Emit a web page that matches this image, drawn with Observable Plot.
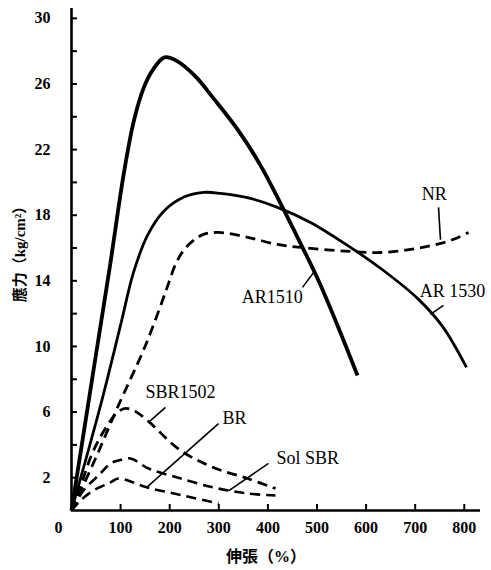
<!DOCTYPE html>
<html><head><meta charset="utf-8">
<script src="https://cdn.jsdelivr.net/npm/d3@7"></script>
<script src="https://cdn.jsdelivr.net/npm/@observablehq/plot@0.6"></script>
<style>body{margin:0;background:#fff}</style>
</head><body><div id="chart"></div>
<script>
// Elongation (%) and stress (kg/cm²)
const ar1510X = [0,48.9,79.4,105.9,126.3,146.6,165,189.4,215.9,252.5,289.2,338.1,384.9,425.7,466.4,503,541.8,582.5];
const ar1510Y = [0,9.33,15.12,20.43,23.66,25.73,26.83,27.62,27.38,26.46,25.12,23.23,21.04,18.72,16.28,14.02,11.28,8.23];
const ar1530X = [0,59.1,99.8,126.3,154.8,187.4,228.1,268.8,303.5,364.6,419.6,486.8,568.2,635.4,704.7,755.6,804.5];
const ar1530Y = [0,6.40,11.28,14.51,16.77,18.23,19.09,19.39,19.33,19.02,18.48,17.56,16.04,14.63,12.93,11.22,8.72];
const nrX = [0,48.9,93.7,144.6,165,185.3,197.6,211.8,228.1,248.5,268.8,299.4,358.5,419.6,466.4,568.2,635.4,704.7,771.9,808.6];
const nrY = [0,3.17,6.28,9.63,11.16,12.80,13.84,15.0,15.85,16.46,16.83,16.95,16.65,16.22,16.04,15.79,15.73,15.98,16.46,16.95];
const sbr1502X = [0,22.4,38.7,55,75.4,93.7,110,130.3,156.8,222,289.2,358.5,415.5];
const sbr1502Y = [0,1.83,3.23,4.27,5.30,5.98,6.22,6.04,5.43,3.66,2.62,1.95,1.34];
const solSbrX = [0,24.4,59.1,79.4,95.7,120.2,156.8,215.9,289.2,358.5,415.5];
const solSbrY = [0,1.22,2.26,2.87,3.05,3.17,2.56,2.01,1.40,1.04,0.91];
const brX = [0,18.3,44.8,79.4,95.7,154.8,228.1,299.4];
const brY = [0,0.61,1.22,1.71,1.95,1.40,0.91,0.43];

const seriesNames = ["AR1510","AR 1530","NR","SBR1502","Sol SBR","BR"];
const seriesX = [ar1510X, ar1530X, nrX, sbr1502X, solSbrX, brX];
const seriesY = [ar1510Y, ar1530Y, nrY, sbr1502Y, solSbrY, brY];

// Labels and their leader lines (data units)
const labelX = [409, 776, 739, 222, 481, 332];
const labelY = [13.0, 13.35, 19.3, 7.2, 3.2, 5.6];
const leaderX1 = [470.5, 757.6, 747.5, 191.4, 401.2, 299.4];
const leaderY1 = [13.6, 12.5, 18.48, 6.28, 2.87, 5.30];
const leaderX2 = [492.9, 731, 751.5, 156.8, 319.8, 154.8];
const leaderY2 = [14.5, 11.95, 16.5, 5.37, 1.2, 1.46];

const xTicks = [100,200,300,400,500,600,700,800];
const yTicksAll = d3.range(2, 31, 2);
const yTickLabels = [2,6,10,14,18,22,26,30];

const styles = {
  "AR1510": {strokeWidth: 3.8, dash: null},
  "AR 1530": {strokeWidth: 2.8, dash: null},
  "NR": {strokeWidth: 2.8, dash: "10,6"},
  "SBR1502": {strokeWidth: 2.8, dash: "10,6"},
  "Sol SBR": {strokeWidth: 2.6, dash: "10,6"},
  "BR": {strokeWidth: 2.6, dash: "10,6"}
};

const rows = [];
seriesNames.forEach((n, i) => seriesX[i].forEach((xv, j) => rows.push({name: n, ex: xv, st: seriesY[i][j]})));
const labels = seriesNames.map((n, i) => ({name: n, lx: labelX[i], ly: labelY[i],
  x1: leaderX1[i], y1: leaderY1[i], x2: leaderX2[i], y2: leaderY2[i]}));

const font = "'Liberation Serif', 'Noto Sans CJK TC', serif";

const chart = Plot.plot({
  width: 491, height: 570,
  marginLeft: 71, marginRight: 11, marginTop: 8, marginBottom: 60,
  x: {domain: [0, 833], label: null},
  y: {domain: [0, 30.6], label: null},
  style: {fontFamily: font, background: "white", color: "black"},
  marks: [
    ...seriesNames.map(n => Plot.line(rows.filter(r => r.name === n), {
      x: "ex", y: "st", curve: "catmull-rom", stroke: "black",
      strokeWidth: styles[n].strokeWidth, strokeDasharray: styles[n].dash,
      strokeLinecap: "butt", strokeLinejoin: "round"
    })),
    Plot.link(labels, {x1: "x1", y1: "y1", x2: "x2", y2: "y2", stroke: "black", strokeWidth: 1.6}),
    Plot.text(labels, {x: "lx", y: "ly", text: "name", fontSize: 18, fill: "black"}),
    Plot.ruleX([0], {stroke: "black", strokeWidth: 2.6}),
    Plot.ruleY([0], {stroke: "black", strokeWidth: 2.6}),
    Plot.axisX({ticks: xTicks, tickSize: 6, dy: -6, tickFormat: () => "", strokeWidth: 2}),
    Plot.axisX({ticks: xTicks, tickSize: 0, tickPadding: 11, fontSize: 16, fontWeight: "bold", label: null}),
    Plot.axisX({ticks: [0], tickSize: 0, tickPadding: 11, dx: -13, fontSize: 16, fontWeight: "bold", label: null}),
    Plot.axisY({ticks: yTicksAll, tickSize: 6, dx: 6, tickFormat: () => "", strokeWidth: 2}),
    Plot.axisY({ticks: yTickLabels, tickSize: 0, tickPadding: 21, fontSize: 16, fontWeight: "bold", label: null}),
    Plot.text(["應力（kg/cm²）"], {frameAnchor: "left", textAnchor: "middle", rotate: -90, dx: -51, dy: -9, fontSize: 15, fontWeight: "bold"}),
    Plot.text(["伸張（%）"], {frameAnchor: "bottom", dx: -10, dy: 51, fontSize: 16, fontWeight: "bold"})
  ]
});
document.getElementById("chart").appendChild(chart);
</script>
</body></html>
